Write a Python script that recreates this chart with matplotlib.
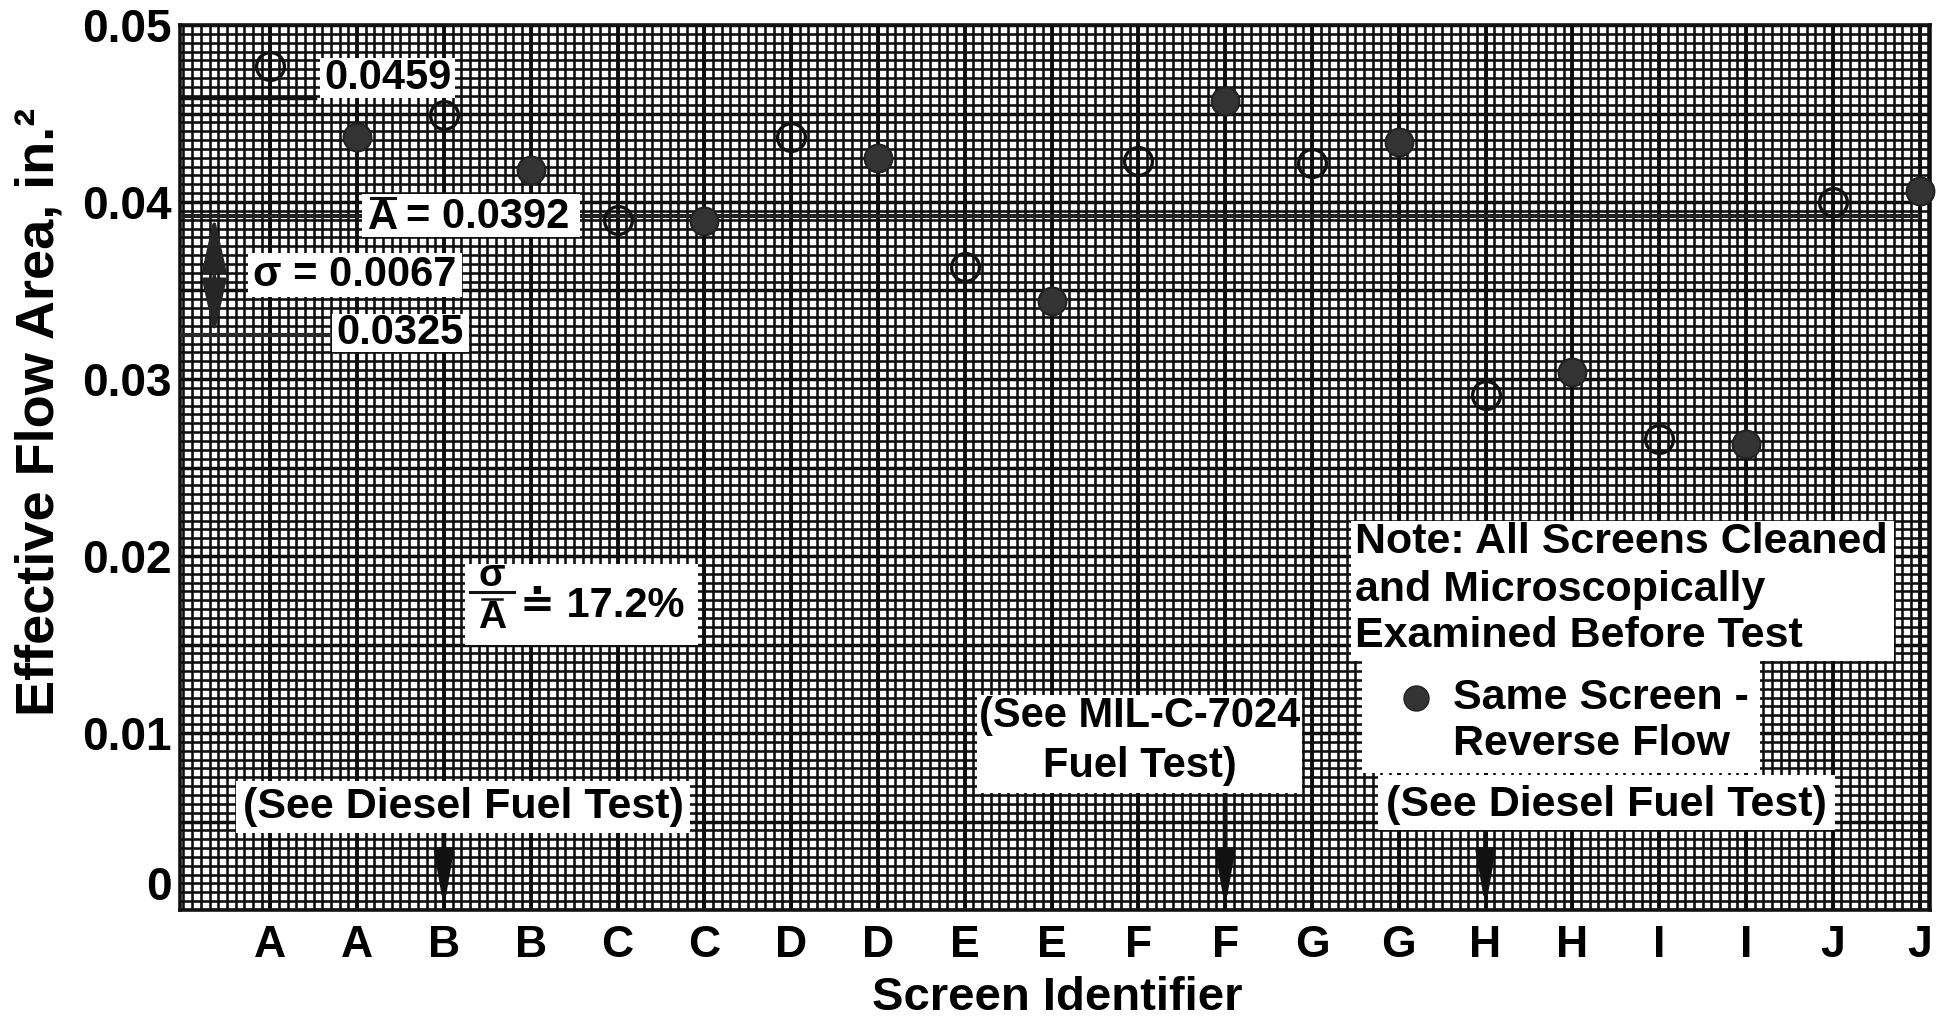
import matplotlib
matplotlib.use('Agg')
import matplotlib.pyplot as plt
import numpy as np
from matplotlib.patches import Rectangle
from matplotlib.lines import Line2D

# ---------------- data ----------------
categories = ['A', 'A', 'B', 'B', 'C', 'C', 'D', 'D', 'E', 'E',
              'F', 'F', 'G', 'G', 'H', 'H', 'I', 'I', 'J', 'J']
flow_area = [0.0477, 0.0437, 0.0449, 0.0418, 0.0390, 0.0389, 0.0437, 0.0425,
             0.0363, 0.0344, 0.0423, 0.0457, 0.0422, 0.0434, 0.0291, 0.0304,
             0.0266, 0.0263, 0.0400, 0.0406]
reverse_flow = [False, True] * 10          # filled = same screen, reverse flow
mean_area = 0.0392
sigma = 0.0067
upper_value = 0.0459
lower_value = 0.0325
ratio_label = '17.2%'
y_ticks = [0, 0.01, 0.02, 0.03, 0.04, 0.05]
y_tick_labels = ['0', '0.01', '0.02', '0.03', '0.04', '0.05']
diesel_targets = [2, 14]   # screen index pointed to by "(See Diesel Fuel Test)"
mil_target = 11            # screen index pointed to by "(See MIL-C-7024 Fuel Test)"

# ---------------- style ----------------
plt.rcParams['font.family'] = ['Liberation Sans', 'DejaVu Sans']
plt.rcParams['font.weight'] = 'bold'

W, H = 1944, 1030
fig = plt.figure(figsize=(W / 100, H / 100), dpi=100)
ax = fig.add_axes([180 / W, 1 - 910 / H, (1930 - 180) / W, (910 - 25) / H])
ax.set_xlim(-1.04, 19.12)
ax.set_ylim(0, 0.05)

grid_c = '#0d0d0d'
# graph paper grid
ax.vlines(np.arange(-1.0, 19.2, 0.1), 0, 0.05, color=grid_c, lw=1.85, zorder=0)
ax.hlines(np.arange(0, 0.05001, 0.0005), -1.04, 19.12, color=grid_c, lw=1.85, zorder=0)
ax.vlines(np.arange(0, 20, 1), 0, 0.05, color=grid_c, lw=2.8, zorder=0)
ax.hlines(np.arange(0, 0.05001, 0.005), -1.04, 19.12, color=grid_c, lw=2.5, zorder=0)

x = np.arange(len(categories))
y = np.array(flow_area)
rev = np.array(reverse_flow)
ax.plot(x[~rev], y[~rev], 'o', ms=20, mfc='none', mec='#111111', mew=2.4,
        zorder=4, clip_on=False)
ax.plot(x[rev], y[rev], 'o', ms=20, mfc='#333333', mec='#222222', mew=1.5,
        zorder=4, clip_on=False)

# reference lines
ax.axhline(mean_area, xmin=0, xmax=0.993, color='#222222', lw=3.0, zorder=3)
ax.axhline(upper_value, xmin=0, xmax=(315 - 180) / 1750, color='#111111', lw=3.2, zorder=3)
ax.axhline(lower_value, xmin=0, xmax=(330 - 180) / 1750, color='#2a2a2a', lw=3.0, zorder=3)
ax.annotate('', xy=(-0.645, lower_value), xytext=(-0.645, mean_area),
            arrowprops=dict(arrowstyle='<|-|>,head_length=1.7,head_width=0.38',
                            color='#262626', lw=2.6, mutation_scale=20,
                            shrinkA=0, shrinkB=0), zorder=4)

for idx, ystart in [(diesel_targets[0], 0.00435), (mil_target, 0.0066),
                    (diesel_targets[1], 0.0046)]:
    ax.annotate('', xy=(idx, 0.0001), xytext=(idx, ystart),
                arrowprops=dict(arrowstyle='-|>,head_length=1.6,head_width=0.28',
                                color='#111111', lw=3.5, mutation_scale=20,
                                shrinkA=0, shrinkB=0), zorder=4)

# axes, ticks
for s in ax.spines.values():
    s.set_linewidth(2.6)
    s.set_color('#111111')
ax.set_xticks(x, categories)
ax.set_yticks(y_ticks, y_tick_labels)
ax.tick_params(axis='x', length=0, pad=11, labelsize=32)
ax.tick_params(axis='y', length=0, pad=6, labelsize=33)
ax.get_yticklabels()[0].set_verticalalignment('bottom')

fig.text(1057 / W, 1 - 998 / H, 'Screen Identifier', ha='center', va='center',
         fontsize=34)
fig.text(40 / W, 1 - 412 / H, 'Effective Flow Area, in.²', ha='center', va='center',
         rotation=90, fontsize=39)


# ---------------- annotation boxes ----------------
def pbox(x0, y0, x1, y1):
    fig.add_artist(Rectangle((x0 / W, 1 - y1 / H), (x1 - x0) / W, (y1 - y0) / H,
                             transform=fig.transFigure, facecolor='white',
                             edgecolor='none', zorder=5))


def ptext(px, py, s, size=30, ha='center', **kw):
    fig.text(px / W, 1 - py / H, s, ha=ha, va='center', fontsize=size, zorder=6, **kw)


def pline(x0, x1, py, lw=2.2):
    fig.add_artist(Line2D([x0 / W, x1 / W], [1 - py / H, 1 - py / H],
                          transform=fig.transFigure, color='#111111', lw=lw,
                          zorder=6))


pbox(320, 58, 455, 98)
ptext(388, 78, f'{upper_value:.4f}')

pbox(362, 194, 580, 237)
ptext(383, 218, 'A')
pline(371, 395, 198, lw=2.2)
ptext(406, 217, f'= {mean_area:.4f}', ha='left')

pbox(248, 253, 462, 297)
ptext(355, 275, f'σ = {sigma:.4f}')

pbox(332, 314, 469, 352)
ptext(400, 333, f'{lower_value:.4f}')

pbox(465, 564, 698, 645)
ptext(492, 576, 'σ', size=28)
pline(470, 514, 592)
ptext(492, 618, 'A', size=28)
pline(482, 502, 599, lw=1.8)
ptext(520, 606, '≐ ' + ratio_label, ha='left')

pbox(236, 781, 690, 833)
ptext(463, 807, '(See Diesel Fuel Test)', size=31)

pbox(977, 695, 1302, 793)
ptext(1140, 716, '(See MIL-C-7024')
ptext(1140, 766, 'Fuel Test)')

pbox(1351, 521, 1894, 661)
ptext(1355, 542, 'Note: All Screens Cleaned', ha='left', size=31)
ptext(1355, 590, 'and Microscopically', ha='left', size=31)
ptext(1355, 636, 'Examined Before Test', ha='left', size=31)

pbox(1362, 661, 1760, 773)
fig.add_artist(Line2D([1416 / W], [1 - 698 / H], transform=fig.transFigure,
                      marker='o', ms=18, mfc='#333333', mec='#222222', zorder=6))
ptext(1453, 698, 'Same Screen -', ha='left', size=31)
ptext(1453, 744, 'Reverse Flow', ha='left', size=31)

pbox(1378, 775, 1835, 830)
ptext(1606, 805, '(See Diesel Fuel Test)', size=31)

fig.savefig('out.png', dpi=100, facecolor='white')
